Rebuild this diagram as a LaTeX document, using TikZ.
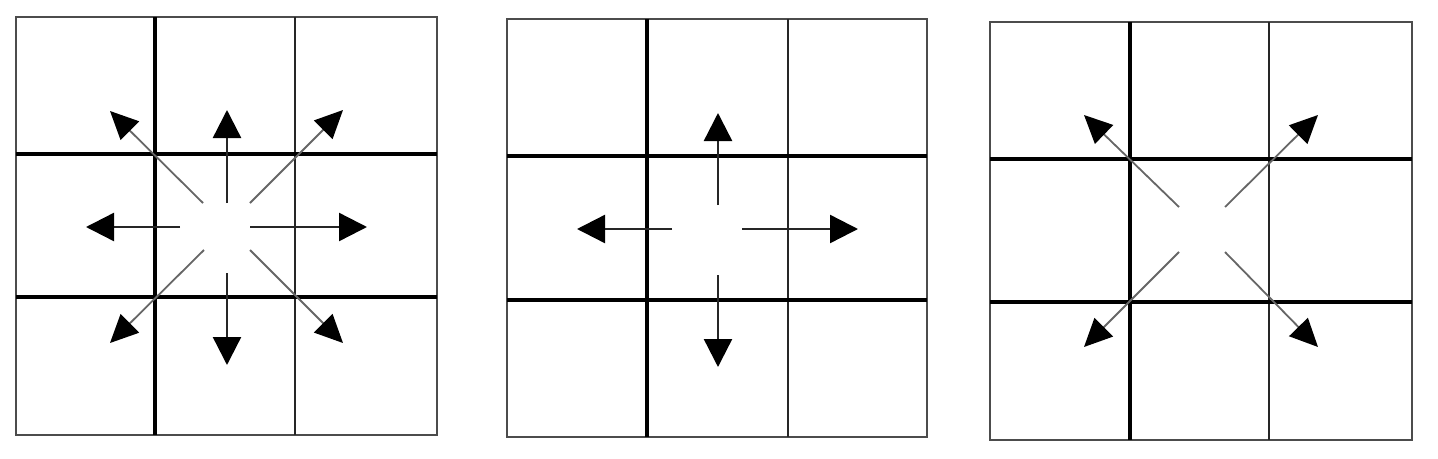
\documentclass[tikz,border=0pt]{standalone}
\usetikzlibrary{arrows.meta}
\begin{document}
\begin{tikzpicture}[x=1pt,y=-1pt,
  outerline/.style={line width=2.3pt,draw=black!70},
  innerline/.style={line width=3.4pt,draw=black},
  innerthin/.style={line width=2.6pt,draw=black!85},
  orth/.style={line width=2.4pt,draw=black!85,-{Triangle[length=28pt,width=28pt,fill=black,color=black]}},
  diag/.style={line width=1.8pt,draw=black!60,-{Triangle[length=28pt,width=26pt,fill=black,color=black]}}]
\useasboundingbox (0,0) rectangle (1438,458);
% ---------- grid 1 ----------
\draw[outerline] (16,17) rectangle (437,435);
\draw[innerline] (155,17) -- (155,435);
\draw[innerthin] (295,17) -- (295,435);
\draw[innerline] (16,154) -- (437,154);
\draw[innerline] (16,297) -- (437,297);
\coordinate (a1s) at (227,203); \coordinate (a1t) at (227,110);
\coordinate (a2s) at (227,273); \coordinate (a2t) at (227,365);
\coordinate (a3s) at (180,227); \coordinate (a3t) at (86,227);
\coordinate (a4s) at (250,227); \coordinate (a4t) at (367,227);
\coordinate (a5s) at (203,203); \coordinate (a5t) at (110,111);
\coordinate (a6s) at (250,203); \coordinate (a6t) at (343,110);
\coordinate (a7s) at (204,250); \coordinate (a7t) at (110,343);
\coordinate (a8s) at (250,250); \coordinate (a8t) at (343,343);
\draw[orth] (a1s) -- (a1t);
\draw[orth] (a2s) -- (a2t);
\draw[orth] (a3s) -- (a3t);
\draw[orth] (a4s) -- (a4t);
\draw[diag] (a5s) -- (a5t);
\draw[diag] (a6s) -- (a6t);
\draw[diag] (a7s) -- (a7t);
\draw[diag] (a8s) -- (a8t);
% ---------- grid 2 ----------
\draw[outerline] (507,19) rectangle (927,437);
\draw[innerline] (647,19) -- (647,437);
\draw[innerthin] (788,19) -- (788,437);
\draw[innerline] (507,156) -- (927,156);
\draw[innerline] (507,300) -- (927,300);
\coordinate (b1s) at (718,205); \coordinate (b1t) at (718,113);
\coordinate (b2s) at (718,275); \coordinate (b2t) at (718,367);
\coordinate (b3s) at (672,229); \coordinate (b3t) at (577,229);
\coordinate (b4s) at (742,229); \coordinate (b4t) at (858,229);
\draw[orth] (b1s) -- (b1t);
\draw[orth] (b2s) -- (b2t);
\draw[orth] (b3s) -- (b3t);
\draw[orth] (b4s) -- (b4t);
% ---------- grid 3 ----------
\draw[outerline] (990,22) rectangle (1412,440);
\draw[innerline] (1130,22) -- (1130,440);
\draw[innerthin] (1269,22) -- (1269,440);
\draw[innerline] (990,159) -- (1412,159);
\draw[innerline] (990,302) -- (1412,302);
\coordinate (c5s) at (1179,207); \coordinate (c5t) at (1084,115);
\coordinate (c6s) at (1225,207); \coordinate (c6t) at (1318,115);
\coordinate (c7s) at (1179,252); \coordinate (c7t) at (1084,347);
\coordinate (c8s) at (1225,252); \coordinate (c8t) at (1318,347);
\draw[diag] (c5s) -- (c5t);
\draw[diag] (c6s) -- (c6t);
\draw[diag] (c7s) -- (c7t);
\draw[diag] (c8s) -- (c8t);
\end{tikzpicture}
\end{document}
